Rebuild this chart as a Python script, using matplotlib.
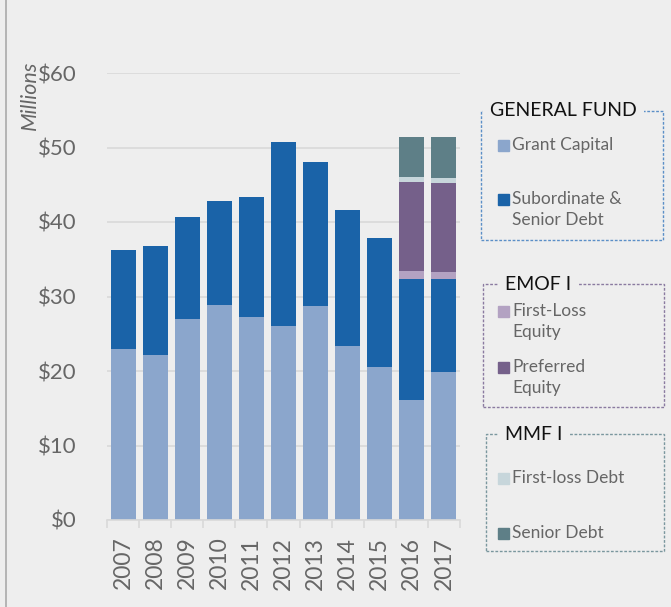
import numpy as np
import matplotlib
matplotlib.use('Agg')
import matplotlib.pyplot as plt
from matplotlib.patches import Rectangle

years = ['2007', '2008', '2009', '2010', '2011', '2012', '2013', '2014', '2015', '2016', '2017']

# $ millions
grant_capital = [23.0, 22.2, 27.0, 28.9, 27.3, 26.1, 28.7, 23.4, 20.6, 16.1, 19.9]
sub_senior_debt = [13.3, 14.6, 13.7, 13.9, 16.0, 24.7, 19.4, 18.2, 17.2, 16.3, 12.4]
first_loss_equity = [0, 0, 0, 0, 0, 0, 0, 0, 0, 1.0, 1.0]
preferred_equity = [0, 0, 0, 0, 0, 0, 0, 0, 0, 12.0, 12.0]
first_loss_debt = [0, 0, 0, 0, 0, 0, 0, 0, 0, 0.6, 0.6]
senior_debt = [0, 0, 0, 0, 0, 0, 0, 0, 0, 5.4, 5.5]

series = [
    ('Grant Capital', grant_capital, '#8ba6cc'),
    ('Subordinate &\nSenior Debt', sub_senior_debt, '#1a63a8'),
    ('First-Loss\nEquity', first_loss_equity, '#b3a2c2'),
    ('Preferred\nEquity', preferred_equity, '#75608a'),
    ('First-loss Debt', first_loss_debt, '#c7d6db'),
    ('Senior Debt', senior_debt, '#5e7f87'),
]

bg = '#eeeeee'
plt.rcParams['font.family'] = ['Lato', 'DejaVu Sans']

fig = plt.figure(figsize=(6.71, 6.07), dpi=100, facecolor=bg)
W, H = 671.0, 607.0
ax = fig.add_axes([107 / W, 1 - 520 / H, 353 / W, 447 / H])
ax.set_facecolor(bg)

x = np.arange(len(years))
bottom = np.zeros(len(years))
for name, vals, col in series:
    vals = np.array(vals)
    ax.bar(x, vals, 0.78, bottom=bottom, color=col, edgecolor='none', zorder=2)
    bottom += vals

ax.set_xlim(-0.5, len(years) - 0.5)
ax.set_ylim(0, 60)
ax.set_yticks(range(0, 61, 10))
ax.set_yticklabels(['$%d' % v for v in range(0, 61, 10)], fontsize=16, color='#666666')
ax.yaxis.grid(True, color='#d9d9d9', linewidth=1.2, zorder=0)
ax.tick_params(axis='y', length=0, pad=22)

ax.set_xticks(x)
ax.set_xticklabels(years, rotation=90, fontsize=16.5, color='#666666')
ax.set_xticks(np.arange(-0.5, len(years), 1), minor=True)
ax.tick_params(axis='x', which='major', length=0, pad=12)
ax.tick_params(axis='x', which='minor', length=6, color='#d9d9d9', width=1.2)

for s in ['top', 'right', 'left']:
    ax.spines[s].set_visible(False)
ax.spines['bottom'].set_color('#d9d9d9')
ax.spines['bottom'].set_linewidth(1.2)

fig.text(30 / W, 1 - 95 / H, 'Millions', rotation=90, style='italic',
         fontsize=15.5, color='#666666', ha='center', va='center')

# outer frame
fig.patches.append(Rectangle((6 / W, -0.01), 1.0, 1.02, transform=fig.transFigure,
                             fill=False, edgecolor='#aaaaaa', linewidth=1.2))


def legend_box(x0, y0, x1, y1, color, title, tx, entries):
    fig.patches.append(Rectangle((x0 / W, 1 - y1 / H), (x1 - x0) / W, (y1 - y0) / H,
                                 transform=fig.transFigure, fill=False, edgecolor=color,
                                 linewidth=1, linestyle=(0, (2, 1.2))))
    fig.text(tx / W, 1 - y0 / H, title, fontsize=14, color='#111111', ha='left', va='center',
             bbox=dict(facecolor=bg, edgecolor='none', pad=5))
    for label, col, ey in entries:
        fig.patches.append(Rectangle((498 / W, 1 - (ey + 6) / H), 11 / W, 11 / H,
                                     transform=fig.transFigure, color=col))
        fig.text(512 / W, 1 - (ey - 8) / H, label, fontsize=12.5, color='#666666',
                 ha='left', va='top', linespacing=1.4)


legend_box(481, 111, 663, 240, '#5b8fc7', 'GENERAL FUND', 490,
           [(series[0][0], series[0][2], 145), (series[1][0], series[1][2], 199)])
legend_box(483, 284, 664, 407, '#8a7aa0', 'EMOF I', 505,
           [(series[2][0], series[2][2], 311), (series[3][0], series[3][2], 367)])
legend_box(486, 434, 664, 551, '#7a979e', 'MMF I', 505,
           [(series[4][0], series[4][2], 478), (series[5][0], series[5][2], 533)])

plt.savefig('out.png', dpi=100, facecolor=bg)
